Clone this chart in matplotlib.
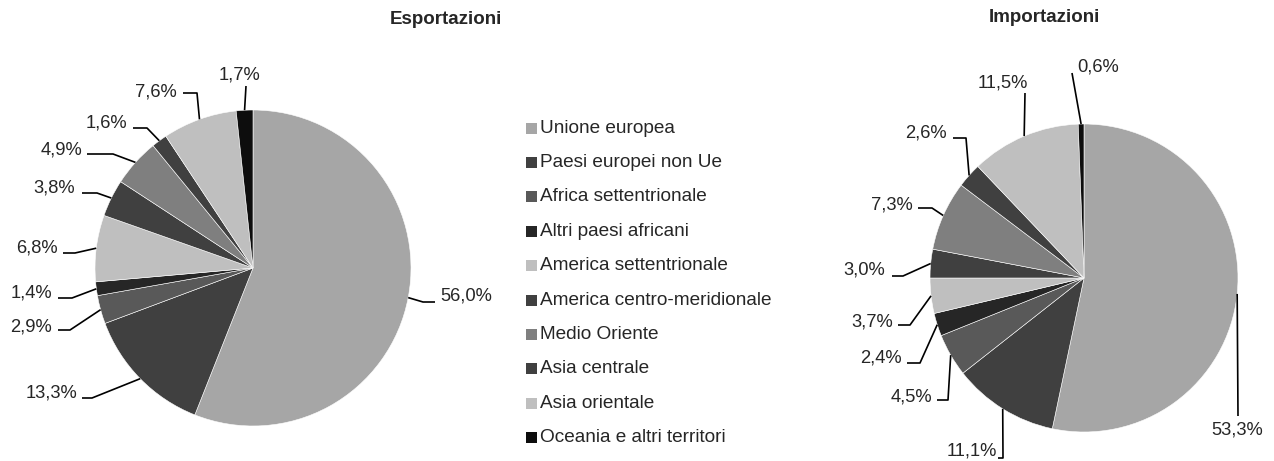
import numpy as np
import matplotlib.pyplot as plt

plt.rcParams['font.family'] = ['Liberation Sans', 'DejaVu Sans']

# --- data -------------------------------------------------------------
aree = ["Unione europea", "Paesi europei non Ue", "Africa settentrionale",
        "Altri paesi africani", "America settentrionale",
        "America centro-meridionale", "Medio Oriente", "Asia centrale",
        "Asia orientale", "Oceania e altri territori"]
esportazioni = [56.0, 13.3, 2.9, 1.4, 6.8, 3.8, 4.9, 1.6, 7.6, 1.7]
importazioni = [53.3, 11.1, 4.5, 2.4, 3.7, 3.0, 7.3, 2.6, 11.5, 0.6]

colori = ["#a6a6a6", "#404040", "#595959", "#262626", "#bfbfbf",
          "#404040", "#7f7f7f", "#404040", "#bfbfbf", "#0d0d0d"]

# --- layout (pixel coordinates, y pointing down) ----------------------
W, H = 1274, 461
# label text position, alignment, start of leader and elbow point
exp_labels = [
    ((440, 296), "left", (435, 302), (423, 302)),
    ((77, 393), "right", (82, 398), (92, 398)),
    ((52, 327), "right", (58, 330), (70, 330)),
    ((52, 293), "right", (58, 298), (72, 298)),
    ((58, 248), "right", (63, 253), (75, 253)),
    ((75, 188), "right", (82, 193), (97, 193)),
    ((82, 150), "right", (87, 154), (113, 154)),
    ((127, 123), "right", (133, 128), (147, 128)),
    ((177, 92), "right", (183, 93), (197, 93)),
    ((240, 75), "center", (246, 86), (246, 86)),
]
imp_labels = [
    ((1237, 430), "center", (1238, 416), (1238, 416)),
    ((997, 451), "right", (998, 458), (1003, 458)),
    ((932, 397), "right", (937, 400), (948, 400)),
    ((902, 358), "right", (907, 363), (920, 363)),
    ((893, 322), "right", (898, 325), (910, 325)),
    ((885, 270), "right", (892, 276), (903, 276)),
    ((913, 205), "right", (918, 208), (932, 208)),
    ((947, 133), "right", (953, 138), (966, 138)),
    ((1003, 83), "center", (1025, 93), (1025, 93)),
    ((1077, 67), "left", (1072, 73), (1072, 73)),
]

fig = plt.figure(figsize=(W / 100, H / 100), dpi=100)
ax = fig.add_axes([0, 0, 1, 1])


def draw_pie(values, center, radius, labels, title, title_pos):
    # y axis is inverted, so counterclock in data space runs clockwise on screen
    wedges, _ = ax.pie(values, colors=colori, startangle=-90, counterclock=True,
                       center=center, radius=radius,
                       wedgeprops=dict(edgecolor="white", linewidth=0.4))
    for w, v, (tpos, ha, p1, p2) in zip(wedges, values, labels):
        mid = np.deg2rad((w.theta1 + w.theta2) / 2)
        ax_x = w.center[0] + w.r * np.cos(mid)
        ax_y = w.center[1] + w.r * np.sin(mid)
        ax.plot([p1[0], p2[0], ax_x], [p1[1], p2[1], ax_y],
                color="black", lw=1.2, solid_capstyle="butt", zorder=3)
        ax.text(tpos[0], tpos[1], f"{v:.1f}%".replace(".", ","),
                ha=ha, va="center", fontsize=13.2, color="#262626")
    ax.text(title_pos[0], title_pos[1], title, ha="center", va="center",
            fontsize=13.5, fontweight="bold", color="#262626")


draw_pie(esportazioni, (253, 268), 158, exp_labels, "Esportazioni", (446, 20))
draw_pie(importazioni, (1084, 278), 154, imp_labels, "Importazioni", (1044, 18))

# legend between the two pies
for i, (nome, col) in enumerate(zip(aree, colori)):
    y = 128 + i * 34.4
    ax.add_patch(plt.Rectangle((526, y - 5.5), 11, 11, facecolor=col,
                               edgecolor="none"))
    ax.text(540, y, nome, ha="left", va="center", fontsize=13.7,
            color="#262626")

ax.set_xlim(0, W)
ax.set_ylim(H, 0)
ax.set_aspect("equal")
ax.axis("off")

fig.savefig("out.png", dpi=100)
